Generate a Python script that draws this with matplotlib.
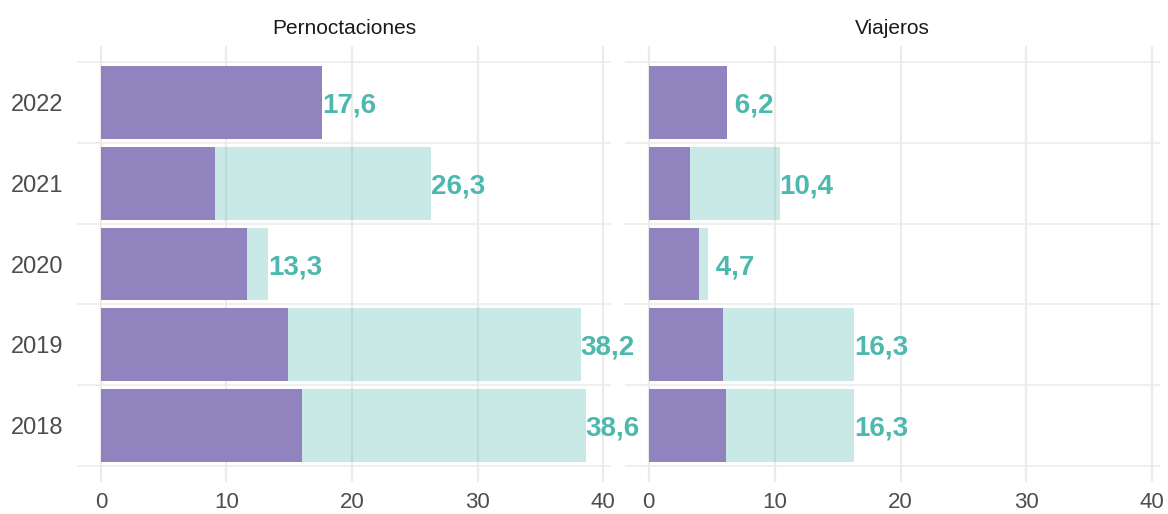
import numpy as np
import matplotlib.pyplot as plt

years = ["2018", "2019", "2020", "2021", "2022"]
panels = ["Pernoctaciones", "Viajeros"]

# full-year totals (light bars) and partial-year values (purple bars)
pern_total = [38.6, 38.2, 13.3, 26.3, 17.6]
pern_part = [16.0, 14.9, 11.6, 9.1, 17.6]
viaj_total = [16.3, 16.3, 4.7, 10.4, 6.2]
viaj_part = [6.1, 5.9, 4.0, 3.3, 6.2]

x_ticks = [0, 10, 20, 30, 40]

C = {
    "purple": "#9183BD",
    "teal": "#4DB8AE",
    "grid": "#EBEBEB",
    "text": "#4D4D4D",
    "title": "#1A1A1A",
}

plt.rcParams["font.family"] = ["Liberation Sans", "DejaVu Sans"]

fig = plt.figure(figsize=(11.68, 5.14), dpi=100)
ax_l = fig.add_axes([0.0659, 0.0623, 0.457, 0.848])
ax_r = fig.add_axes([0.535, 0.0623, 0.458, 0.848])
ax_l.set_zorder(2)

pos = np.arange(1, len(years) + 1)

for ax, title, total, part in [
    (ax_l, panels[0], pern_total, pern_part),
    (ax_r, panels[1], viaj_total, viaj_part),
]:
    ax.patch.set_visible(False)
    ax.set_xlim(-1.9, 40.6)
    ax.set_ylim(0.3, 5.7)
    for xv in x_ticks:
        ax.axvline(xv, color=C["grid"], linewidth=1.6, zorder=0)
    for yv in np.arange(0.5, len(years) + 1, 1.0):
        ax.axhline(yv, color=C["grid"], linewidth=1.1, zorder=0)

    ax.barh(pos, total, height=0.9, color=C["teal"], alpha=0.3,
            linewidth=0, zorder=2)
    ax.barh(pos, part, height=0.9, color=C["purple"], linewidth=0, zorder=3)

    # labels padded to a common width, as in the original
    labels = [f"{v:.1f}".replace(".", ",") for v in total]
    width = max(len(s) for s in labels)
    for p, v, s in zip(pos, total, labels):
        ax.text(v, p, s.rjust(width), color=C["teal"],
                fontsize=20, fontweight="bold", ha="left",
                va="center_baseline", zorder=4, clip_on=False)

    ax.set_title(title, fontsize=15, color=C["title"], pad=9)
    ax.set_xticks(x_ticks)
    ax.set_xticklabels([str(t) for t in x_ticks], fontsize=16, color=C["text"])
    ax.set_yticks(pos)
    ax.tick_params(axis="x", length=0, pad=7)
    ax.tick_params(axis="y", length=0, pad=10)
    for spine in ax.spines.values():
        spine.set_visible(False)

ax_l.set_yticklabels(years, fontsize=17, color=C["text"])
ax_r.set_yticklabels([])

fig.savefig("out.png", dpi=100)
